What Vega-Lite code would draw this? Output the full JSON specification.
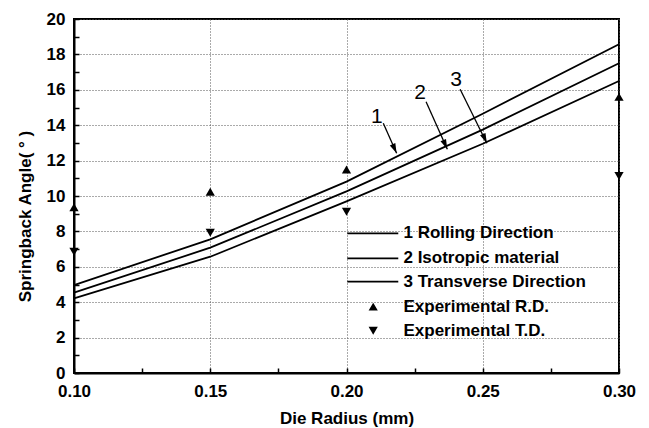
{
  "$schema": "https://vega.github.io/schema/vega-lite/v6.json",
  "width": 545,
  "height": 354,
  "autosize": {"type": "none"},
  "padding": {"left": 74, "top": 19, "right": 30, "bottom": 55},
  "background": "white",
  "config": {
    "font": "Liberation Sans",
    "view": {"stroke": "black", "strokeWidth": 2}
  },
  "datasets": {
    "curves": [
      {"radius": 0.10, "angle": 4.97, "series": "1 Rolling Direction"},
      {"radius": 0.15, "angle": 7.55, "series": "1 Rolling Direction"},
      {"radius": 0.20, "angle": 10.81, "series": "1 Rolling Direction"},
      {"radius": 0.25, "angle": 14.65, "series": "1 Rolling Direction"},
      {"radius": 0.30, "angle": 18.57, "series": "1 Rolling Direction"},
      {"radius": 0.10, "angle": 4.54, "series": "2 Isotropic material"},
      {"radius": 0.15, "angle": 7.08, "series": "2 Isotropic material"},
      {"radius": 0.20, "angle": 10.26, "series": "2 Isotropic material"},
      {"radius": 0.25, "angle": 13.75, "series": "2 Isotropic material"},
      {"radius": 0.30, "angle": 17.5, "series": "2 Isotropic material"},
      {"radius": 0.10, "angle": 4.22, "series": "3 Transverse Direction"},
      {"radius": 0.15, "angle": 6.57, "series": "3 Transverse Direction"},
      {"radius": 0.20, "angle": 9.70, "series": "3 Transverse Direction"},
      {"radius": 0.25, "angle": 12.95, "series": "3 Transverse Direction"},
      {"radius": 0.30, "angle": 16.5, "series": "3 Transverse Direction"}
    ],
    "experiment": [
      {"radius": 0.10, "angle": 9.36, "series": "Experimental R.D."},
      {"radius": 0.15, "angle": 10.24, "series": "Experimental R.D."},
      {"radius": 0.20, "angle": 11.5, "series": "Experimental R.D."},
      {"radius": 0.30, "angle": 15.6, "series": "Experimental R.D."},
      {"radius": 0.10, "angle": 6.85, "series": "Experimental T.D."},
      {"radius": 0.15, "angle": 7.93, "series": "Experimental T.D."},
      {"radius": 0.20, "angle": 9.11, "series": "Experimental T.D."},
      {"radius": 0.30, "angle": 11.13, "series": "Experimental T.D."}
    ],
    "callouts": [
      {"label": "1", "tx": 0.2111, "ty": 14.48, "x1": 0.2135, "y1": 14.11, "x2": 0.2184, "y2": 12.41},
      {"label": "2", "tx": 0.2270, "ty": 15.80, "x1": 0.2292, "y1": 15.33, "x2": 0.2370, "y2": 12.64},
      {"label": "3", "tx": 0.2402, "ty": 16.55, "x1": 0.2417, "y1": 16.03, "x2": 0.2515, "y2": 12.98}
    ],
    "key": [
      {"label": "1 Rolling Direction", "kind": "line", "x1": 0.2003, "x2": 0.219, "tx": 0.2209, "y": 7.89},
      {"label": "2 Isotropic material", "kind": "line", "x1": 0.2003, "x2": 0.219, "tx": 0.2209, "y": 6.48},
      {"label": "3 Transverse Direction", "kind": "line", "x1": 0.2003, "x2": 0.219, "tx": 0.2209, "y": 5.16},
      {"label": "Experimental R.D.", "kind": "Experimental R.D.", "x1": 0.2098, "x2": 0.2098, "tx": 0.2209, "y": 3.75},
      {"label": "Experimental T.D.", "kind": "Experimental T.D.", "x1": 0.2098, "x2": 0.2098, "tx": 0.2209, "y": 2.39}
    ]
  },
  "layer": [
    {
      "data": {"name": "curves"},
      "mark": {"type": "line", "color": "black", "strokeWidth": 1.8, "clip": false},
      "encoding": {
        "x": {
          "field": "radius", "type": "quantitative",
          "scale": {"domain": [0.1, 0.3], "nice": false, "zero": false},
          "axis": {
            "title": "Die Radius (mm)",
            "values": [0.1, 0.125, 0.15, 0.175, 0.2, 0.225, 0.25, 0.275, 0.3],
            "tickCount": 40,
            "labelExpr": "abs(datum.value * 20 - round(datum.value * 20)) < 0.001 ? format(datum.value, '.2f') : ''",
            "labelFont": "Liberation Sans", "labelFontWeight": "bold", "labelFontSize": 17, "labelColor": "black",
            "labelPadding": 15, "labelOverlap": false, "labelFlush": false, "labelBound": false,
            "domainColor": "black", "domainWidth": 2,
            "tickSize": -5, "tickColor": "black", "tickWidth": 1.5,
            "grid": true, "gridColor": "#555555", "gridDash": [1, 2], "gridWidth": 1,
            "gridOpacity": {"condition": {"test": "abs(datum.value * 20 - round(datum.value * 20)) > 0.001", "value": 0}, "value": 1},
            "titleFont": "Liberation Sans", "titleFontWeight": "bold", "titleFontSize": 17, "titleColor": "black",
            "titleY": 50, "titleBaseline": "alphabetic"
          }
        },
        "y": {
          "field": "angle", "type": "quantitative",
          "scale": {"domain": [0, 20], "nice": false},
          "axis": {
            "title": "Springback Angle( ° )",
            "values": [0, 1, 2, 3, 4, 5, 6, 7, 8, 9, 10, 11, 12, 13, 14, 15, 16, 17, 18, 19, 20],
            "tickCount": 40,
            "labelExpr": "datum.value % 2 === 0 ? format(datum.value, 'd') : ''",
            "labelFont": "Liberation Sans", "labelFontWeight": "bold", "labelFontSize": 17, "labelColor": "black",
            "labelPadding": 14, "labelOverlap": false, "labelBound": false,
            "domainColor": "black", "domainWidth": 2,
            "tickSize": -5, "tickColor": "black", "tickWidth": 1.5,
            "grid": true, "gridColor": "#555555", "gridDash": [1, 2], "gridWidth": 1,
            "gridOpacity": {"condition": {"test": "datum.value % 2 !== 0", "value": 0}, "value": 1},
            "titleFont": "Liberation Sans", "titleFontWeight": "bold", "titleFontSize": 17, "titleColor": "black",
            "titleX": -49, "titleY": 197, "titleAngle": -90, "titleAlign": "center", "titleBaseline": "middle"
          }
        },
        "detail": {"field": "series"}
      }
    },
    {
      "data": {"name": "experiment"},
      "mark": {"type": "point", "filled": true, "color": "black", "opacity": 1, "size": 85, "clip": false},
      "encoding": {
        "x": {"field": "radius", "type": "quantitative"},
        "y": {"field": "angle", "type": "quantitative"},
        "shape": {
          "field": "series", "type": "nominal",
          "scale": {"domain": ["Experimental R.D.", "Experimental T.D."], "range": ["triangle-up", "triangle-down"]},
          "legend": null
        }
      }
    },
    {
      "data": {"name": "callouts"},
      "mark": {"type": "rule", "color": "black", "strokeWidth": 1.3},
      "encoding": {
        "x": {"field": "x1", "type": "quantitative"},
        "y": {"field": "y1", "type": "quantitative"},
        "x2": {"field": "x2"},
        "y2": {"field": "y2"}
      }
    },
    {
      "data": {"name": "callouts"},
      "mark": {"type": "point", "filled": true, "color": "black", "opacity": 1, "size": 400, "angle": 336, "shape": "M -0.3 -1 L 0.3 -1 L 0 0 Z"},
      "encoding": {
        "x": {"field": "x2", "type": "quantitative"},
        "y": {"field": "y2", "type": "quantitative"}
      }
    },
    {
      "data": {"name": "callouts"},
      "mark": {"type": "text", "font": "Liberation Sans", "fontSize": 21, "color": "black", "align": "center", "baseline": "middle"},
      "encoding": {
        "x": {"field": "tx", "type": "quantitative"},
        "y": {"field": "ty", "type": "quantitative"},
        "text": {"field": "label"}
      }
    },
    {
      "data": {"name": "key"},
      "transform": [{"filter": "datum.kind === 'line'"}],
      "mark": {"type": "rule", "color": "black", "strokeWidth": 1.8},
      "encoding": {
        "x": {"field": "x1", "type": "quantitative"},
        "x2": {"field": "x2"},
        "y": {"field": "y", "type": "quantitative"}
      }
    },
    {
      "data": {"name": "key"},
      "transform": [{"filter": "datum.kind !== 'line'"}],
      "mark": {"type": "point", "filled": true, "color": "black", "opacity": 1, "size": 85},
      "encoding": {
        "x": {"field": "x1", "type": "quantitative"},
        "y": {"field": "y", "type": "quantitative"},
        "shape": {"field": "kind", "type": "nominal", "legend": null}
      }
    },
    {
      "data": {"name": "key"},
      "mark": {"type": "text", "font": "Liberation Sans", "fontWeight": "bold", "fontSize": 17, "color": "black", "align": "left", "baseline": "middle"},
      "encoding": {
        "x": {"field": "tx", "type": "quantitative"},
        "y": {"field": "y", "type": "quantitative"},
        "text": {"field": "label"}
      }
    }
  ]
}
